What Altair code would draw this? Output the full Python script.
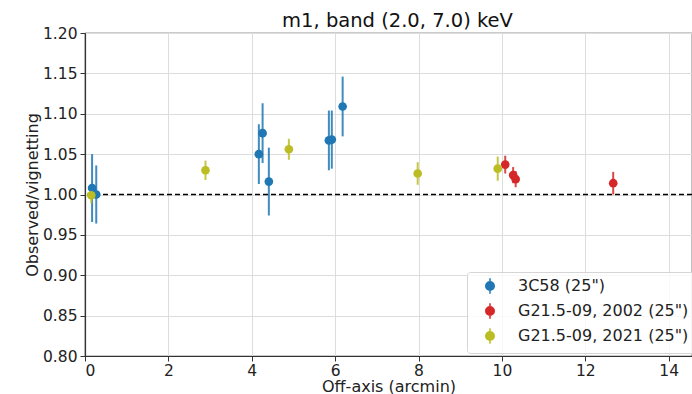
import altair as alt
import pandas as pd

series_3c58 = '3C58 (25")'
series_2002 = 'G21.5-09, 2002 (25")'
series_2021 = 'G21.5-09, 2021 (25")'

x_3c58 = [0.17, 0.27, 4.17, 4.26, 4.41, 5.85, 5.92, 6.18]
y_3c58 = [1.008, 1.000, 1.050, 1.076, 1.016, 1.067, 1.068, 1.109]
e_3c58 = [0.042, 0.036, 0.037, 0.037, 0.042, 0.037, 0.036, 0.037]

x_2002 = [10.08, 10.27, 10.33, 12.67]
y_2002 = [1.037, 1.024, 1.019, 1.014]
e_2002 = [0.011, 0.010, 0.010, 0.014]

x_2021 = [0.15, 2.89, 4.89, 7.98, 9.90]
y_2021 = [0.999, 1.030, 1.056, 1.026, 1.032]
e_2021 = [0.010, 0.012, 0.013, 0.014, 0.015]

series_names = [series_3c58, series_2002, series_2021]
series_colors = ["#1f77b4", "#d62728", "#bcbd22"]

x_ticks = [0, 2, 4, 6, 8, 10, 12, 14]
y_ticks = [0.80, 0.85, 0.90, 0.95, 1.00, 1.05, 1.10, 1.15, 1.20]

rows = []
for name, xs, ys, es in [(series_3c58, x_3c58, y_3c58, e_3c58),
                         (series_2002, x_2002, y_2002, e_2002),
                         (series_2021, x_2021, y_2021, e_2021)]:
    for a, b, c in zip(xs, ys, es):
        rows.append({"series": name, "x": a, "y": b, "err": c})
df = pd.DataFrame(rows)

font = "DejaVu Sans"
xscale = alt.Scale(domain=[0, 14.56], nice=False, zero=False)
yscale = alt.Scale(domain=[0.80, 1.20], nice=False, zero=False)
cscale = alt.Scale(domain=series_names, range=series_colors)

legend = alt.Legend(
    title=None, orient="none", legendX=382, legendY=239,
    symbolType="M-0.6,0A0.6,0.6 0 1,0 0.6,0A0.6,0.6 0 1,0 -0.6,0Z M0,-1.1L0,1.1",
    symbolSize=200, symbolStrokeWidth=1.5, symbolOpacity=1, symbolOffset=9,
    labelFontSize=16, labelFont=font, labelColor="#222", labelLimit=0,
    labelOffset=20, rowPadding=3,
    padding=6, fillColor="rgba(255,255,255,0.8)", strokeColor="#d5d5d5", cornerRadius=3,
)

base = alt.Chart(df).transform_calculate(
    lo="datum.y - datum.err", hi="datum.y + datum.err"
)

bars = base.mark_rule(strokeWidth=2, opacity=0.85).encode(
    x=alt.X("x:Q", scale=xscale),
    y=alt.Y("lo:Q", scale=yscale),
    y2="hi:Q",
    stroke=alt.Stroke("series:N", scale=cscale, legend=legend),
)

points = base.mark_point(filled=True, opacity=1, size=75, strokeWidth=0).encode(
    x=alt.X("x:Q", scale=xscale,
            axis=alt.Axis(title="Off-axis (arcmin)", values=x_ticks, format="d")),
    y=alt.Y("y:Q", scale=yscale,
            axis=alt.Axis(title="Observed/vignetting", values=y_ticks, format=".2f")),
    fill=alt.Fill("series:N", scale=cscale, legend=legend),
    stroke=alt.Stroke("series:N", scale=cscale, legend=legend),
)

ref_df = pd.DataFrame({"y": [1.0]})
ref = alt.Chart(ref_df).mark_rule(color="black", strokeDash=[5, 3], strokeWidth=1.3).encode(
    y=alt.Y("y:Q", scale=yscale)
)

chart = alt.layer(bars, ref, points).properties(
    width=607, height=323,
    title=alt.TitleParams("m1, band (2.0, 7.0) keV", fontSize=19.5, font=font,
                          fontWeight="normal", color="#111", offset=5,
                          frame="group", baseline="alphabetic", dx=9, dy=25),
    autosize=alt.AutoSizeParams(type="none"),
    padding={"left": 85, "top": 33, "right": 0, "bottom": 38},
).configure_view(stroke="#333", strokeWidth=1.2).configure_axis(
    grid=True, gridColor="#dddddd", gridWidth=1,
    domainColor="#333", domainWidth=1.2,
    tickColor="#333", tickSize=5,
    labelFont=font, labelFontSize=15.5, labelColor="#222",
    titleFont=font, titleFontSize=16, titleFontWeight="normal", titleColor="#222",
).configure_axisX(titlePadding=0, labelPadding=2).configure_axisY(titlePadding=2, labelPadding=3)

chart.save("out.html", embed_options={"renderer": "svg", "actions": False})
